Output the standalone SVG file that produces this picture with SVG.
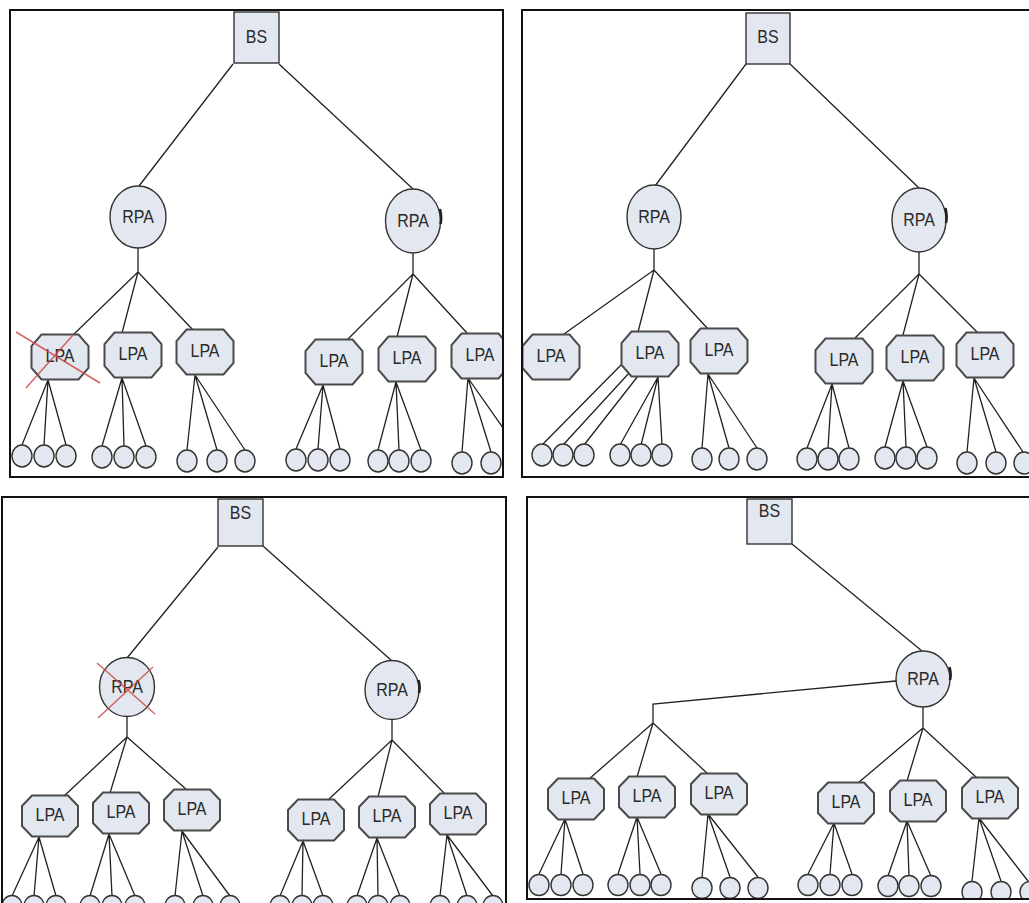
<svg xmlns="http://www.w3.org/2000/svg" xmlns:xlink="http://www.w3.org/1999/xlink" width="1029" height="903" viewBox="0 0 1029 903">
  <defs>
    <style>
      .frame { fill: none; stroke: #111; stroke-width: 2; }
      .ln { fill: none; stroke: #222; stroke-width: 1.3; }
      .box, .rpa, .leaf { fill: #e2e7f0; stroke: #333; stroke-width: 1.4; }
      .oct { fill: #e2e7f0; stroke: #4a4a4a; stroke-width: 2; }
      .mark { fill: none; stroke: #222; stroke-width: 2.6; }
      .lbl { font-family: "Liberation Sans", Arial, sans-serif; font-size: 16px; fill: #2a2a2a; text-anchor: middle; }
      .cross { stroke: #d24a4a; stroke-width: 1.5; opacity: 0.85; }
    </style>
    <polygon id="octL" class="oct" points="-18.5,-22.5 18.5,-22.5 28.5,-11 28.5,11 18.5,22.5 -18.5,22.5 -28.5,11 -28.5,-11"/>
    <polygon id="octS" class="oct" points="-18,-20.5 18,-20.5 28,-10 28,10 18,20.5 -18,20.5 -28,10 -28,-10"/>
    <clipPath id="clip1"><rect x="10" y="10" width="493" height="467"/></clipPath>
    <clipPath id="clip2"><rect x="522" y="10" width="510" height="467"/></clipPath>
    <clipPath id="clip3"><rect x="2" y="497" width="504" height="410"/></clipPath>
    <clipPath id="clip4"><rect x="527" y="497" width="505" height="402"/></clipPath>
  </defs>

  <rect width="1029" height="903" fill="#fff"/>

  <!-- ===== Panel 1: LPA failure ===== -->
  <g id="panel1" clip-path="url(#clip1)">
    <g id="p1-links" class="ln">
      <path d="M233,64 L139,186 M279,64 L413,189"/>
      <path d="M138,248 L138,272 L72,336 M138,272 L122,333 M138,272 L193,330"/>
      <path d="M413,253 L413,274 L347,340 M413,274 L397,337 M413,274 L467,333"/>
      <path d="M48,380 L22,445 M48,380 L44,445 M48,380 L66,445"/>
      <path d="M122,378 L102,446 M122,378 L124,446 M122,378 L146,446"/>
      <path d="M195,375 L187,450 M195,375 L217,450 M195,375 L245,450"/>
      <path d="M323,385 L296,449 M323,385 L318,449 M323,385 L340,449"/>
      <path d="M396,382 L378,450 M396,382 L399,450 M396,382 L421,450"/>
      <path d="M468,378 L462,452 M468,378 L491,452 M468,378 L520,452"/>
    </g>
    <g id="p1-bs"><rect class="box" x="234" y="12" width="45" height="51"/><text class="lbl" x="256.5" y="35.5" transform="scale(1,1.2)">BS</text></g>
    <g id="p1-rpa1" transform="translate(138,217)"><ellipse class="rpa" rx="28" ry="31"/><text class="lbl" y="5" transform="scale(1,1.2)">RPA</text></g>
    <g id="p1-rpa2" transform="translate(413,221)"><ellipse class="rpa" rx="27.5" ry="32"/><path class="mark" d="M27,-12 Q29,-3 27.5,3"/><text class="lbl" y="5" transform="scale(1,1.2)">RPA</text></g>
    <g id="p1-lpa1" transform="translate(60,357)"><use xlink:href="#octL" href="#octL"/><text class="lbl" y="4" transform="scale(1,1.2)">LPA</text></g>
    <g id="p1-lpa2" transform="translate(133,355)"><use xlink:href="#octL" href="#octL"/><text class="lbl" y="4" transform="scale(1,1.2)">LPA</text></g>
    <g id="p1-lpa3" transform="translate(205,352)"><use xlink:href="#octL" href="#octL"/><text class="lbl" y="4" transform="scale(1,1.2)">LPA</text></g>
    <g id="p1-lpa4" transform="translate(334,362)"><use xlink:href="#octL" href="#octL"/><text class="lbl" y="4" transform="scale(1,1.2)">LPA</text></g>
    <g id="p1-lpa5" transform="translate(407,359)"><use xlink:href="#octL" href="#octL"/><text class="lbl" y="4" transform="scale(1,1.2)">LPA</text></g>
    <g id="p1-lpa6" transform="translate(480,356)"><use xlink:href="#octL" href="#octL"/><text class="lbl" y="4" transform="scale(1,1.2)">LPA</text></g>
    <g id="p1-sensors">
      <ellipse id="p1-s1" class="leaf" cx="22" cy="456" rx="10" ry="11"/>
      <ellipse id="p1-s2" class="leaf" cx="44" cy="456" rx="10" ry="11"/>
      <ellipse id="p1-s3" class="leaf" cx="66" cy="456" rx="10" ry="11"/>
      <ellipse id="p1-s4" class="leaf" cx="102" cy="457" rx="10" ry="11"/>
      <ellipse id="p1-s5" class="leaf" cx="124" cy="457" rx="10" ry="11"/>
      <ellipse id="p1-s6" class="leaf" cx="146" cy="457" rx="10" ry="11"/>
      <ellipse id="p1-s7" class="leaf" cx="187" cy="461" rx="10" ry="11"/>
      <ellipse id="p1-s8" class="leaf" cx="217" cy="461" rx="10" ry="11"/>
      <ellipse id="p1-s9" class="leaf" cx="245" cy="461" rx="10" ry="11"/>
      <ellipse id="p1-s10" class="leaf" cx="296" cy="460" rx="10" ry="11"/>
      <ellipse id="p1-s11" class="leaf" cx="318" cy="460" rx="10" ry="11"/>
      <ellipse id="p1-s12" class="leaf" cx="340" cy="460" rx="10" ry="11"/>
      <ellipse id="p1-s13" class="leaf" cx="378" cy="461" rx="10" ry="11"/>
      <ellipse id="p1-s14" class="leaf" cx="399" cy="461" rx="10" ry="11"/>
      <ellipse id="p1-s15" class="leaf" cx="421" cy="461" rx="10" ry="11"/>
      <ellipse id="p1-s16" class="leaf" cx="462" cy="463" rx="10" ry="11"/>
      <ellipse id="p1-s17" class="leaf" cx="491" cy="463" rx="10" ry="11"/>
      <ellipse id="p1-s18" class="leaf" cx="520" cy="463" rx="10" ry="11"/>
    </g>
    <g id="p1-fail" class="cross"><path d="M16,332 L100,383 M73,335 L26,388"/></g>
  </g>
  <rect id="p1-frame" class="frame" x="10" y="10" width="493" height="467"/>

  <!-- ===== Panel 2: orphaned sensors re-attached ===== -->
  <g id="panel2" clip-path="url(#clip2)">
    <g id="p2-links" class="ln">
      <path d="M746,64 L655,186 M790,64 L919,188"/>
      <path d="M654,249 L654,270 L564,334 M654,270 L638,332 M654,270 L708,329"/>
      <path d="M919,252 L919,274 L855,338 M919,274 L903,335 M919,274 L978,333"/>
      <path d="M621,365 L542,445 M630,372 L563,445 M638,376 L584,445"/>
      <path d="M658,377 L620,445 M658,377 L641,445 M658,377 L662,444"/>
      <path d="M708,374 L702,448 M708,374 L729,448 M708,374 L757,448"/>
      <path d="M832,384 L807,448 M832,384 L828,448 M832,384 L849,448"/>
      <path d="M903,381 L885,447 M903,381 L906,447 M903,381 L927,447"/>
      <path d="M974,378 L967,452 M974,378 L996,452 M974,378 L1023,452"/>
    </g>
    <g id="p2-bs"><rect class="box" x="746" y="13" width="44" height="51"/><text class="lbl" x="768" y="36" transform="scale(1,1.2)">BS</text></g>
    <g id="p2-rpa1" transform="translate(654,217)"><ellipse class="rpa" rx="27" ry="32"/><text class="lbl" y="5" transform="scale(1,1.2)">RPA</text></g>
    <g id="p2-rpa2" transform="translate(919,220)"><ellipse class="rpa" rx="27" ry="32"/><path class="mark" d="M26.5,-12 Q28.5,-3 27,3"/><text class="lbl" y="5" transform="scale(1,1.2)">RPA</text></g>
    <g id="p2-lpa1" transform="translate(551,357)"><use xlink:href="#octL" href="#octL"/><text class="lbl" y="4" transform="scale(1,1.2)">LPA</text></g>
    <g id="p2-lpa2" transform="translate(650,354)"><use xlink:href="#octL" href="#octL"/><text class="lbl" y="4" transform="scale(1,1.2)">LPA</text></g>
    <g id="p2-lpa3" transform="translate(719,351)"><use xlink:href="#octL" href="#octL"/><text class="lbl" y="4" transform="scale(1,1.2)">LPA</text></g>
    <g id="p2-lpa4" transform="translate(844,361)"><use xlink:href="#octL" href="#octL"/><text class="lbl" y="4" transform="scale(1,1.2)">LPA</text></g>
    <g id="p2-lpa5" transform="translate(915,358)"><use xlink:href="#octL" href="#octL"/><text class="lbl" y="4" transform="scale(1,1.2)">LPA</text></g>
    <g id="p2-lpa6" transform="translate(985,355)"><use xlink:href="#octL" href="#octL"/><text class="lbl" y="4" transform="scale(1,1.2)">LPA</text></g>
    <g id="p2-sensors">
      <ellipse id="p2-s1" class="leaf" cx="542" cy="455" rx="10" ry="11"/>
      <ellipse id="p2-s2" class="leaf" cx="563" cy="455" rx="10" ry="11"/>
      <ellipse id="p2-s3" class="leaf" cx="584" cy="455" rx="10" ry="11"/>
      <ellipse id="p2-s4" class="leaf" cx="620" cy="455" rx="10" ry="11"/>
      <ellipse id="p2-s5" class="leaf" cx="641" cy="455" rx="10" ry="11"/>
      <ellipse id="p2-s6" class="leaf" cx="662" cy="455" rx="10" ry="11"/>
      <ellipse id="p2-s7" class="leaf" cx="702" cy="459" rx="10" ry="11"/>
      <ellipse id="p2-s8" class="leaf" cx="729" cy="459" rx="10" ry="11"/>
      <ellipse id="p2-s9" class="leaf" cx="757" cy="459" rx="10" ry="11"/>
      <ellipse id="p2-s10" class="leaf" cx="807" cy="459" rx="10" ry="11"/>
      <ellipse id="p2-s11" class="leaf" cx="828" cy="459" rx="10" ry="11"/>
      <ellipse id="p2-s12" class="leaf" cx="849" cy="459" rx="10" ry="11"/>
      <ellipse id="p2-s13" class="leaf" cx="885" cy="458" rx="10" ry="11"/>
      <ellipse id="p2-s14" class="leaf" cx="906" cy="458" rx="10" ry="11"/>
      <ellipse id="p2-s15" class="leaf" cx="927" cy="458" rx="10" ry="11"/>
      <ellipse id="p2-s16" class="leaf" cx="967" cy="463" rx="10" ry="11"/>
      <ellipse id="p2-s17" class="leaf" cx="996" cy="463" rx="10" ry="11"/>
      <ellipse id="p2-s18" class="leaf" cx="1024" cy="463" rx="10" ry="11"/>
    </g>
  </g>
  <rect id="p2-frame" class="frame" x="522" y="10" width="510" height="467"/>

  <!-- ===== Panel 3: RPA failure ===== -->
  <g id="panel3" clip-path="url(#clip3)">
    <g id="p3-links" class="ln">
      <path d="M218,547 L127,658 M263,546 L392,661"/>
      <path d="M127,716 L127,737 L63,797 M127,737 L110,793 M127,737 L187,790"/>
      <path d="M392,719 L392,740 L328,800 M392,740 L378,797 M392,740 L445,794"/>
      <path d="M39,837 L12,896 M39,837 L34,896 M39,837 L56,896"/>
      <path d="M109,834 L90,896 M109,834 L112,896 M109,834 L135,896"/>
      <path d="M182,831 L175,896 M182,831 L203,896 M182,831 L230,896"/>
      <path d="M303,841 L280,896 M303,841 L302,896 M303,841 L323,896"/>
      <path d="M377,838 L357,896 M377,838 L378,896 M377,838 L400,896"/>
      <path d="M447,835 L440,896 M447,835 L467,896 M447,835 L493,896"/>
    </g>
    <g id="p3-bs"><rect class="box" x="218" y="499" width="45" height="47"/><text class="lbl" x="240.5" y="432.5" transform="scale(1,1.2)">BS</text></g>
    <g id="p3-rpa1" transform="translate(127,687)"><ellipse class="rpa" rx="27.5" ry="29.5"/><text class="lbl" y="5" transform="scale(1,1.2)">RPA</text></g>
    <g id="p3-rpa2" transform="translate(392,690)"><ellipse class="rpa" rx="27" ry="29.5"/><path class="mark" d="M26.5,-10 Q28.5,-3 27,3"/><text class="lbl" y="5" transform="scale(1,1.2)">RPA</text></g>
    <g id="p3-lpa1" transform="translate(50,816)"><use xlink:href="#octS" href="#octS"/><text class="lbl" y="4" transform="scale(1,1.2)">LPA</text></g>
    <g id="p3-lpa2" transform="translate(121,813)"><use xlink:href="#octS" href="#octS"/><text class="lbl" y="4" transform="scale(1,1.2)">LPA</text></g>
    <g id="p3-lpa3" transform="translate(192,810)"><use xlink:href="#octS" href="#octS"/><text class="lbl" y="4" transform="scale(1,1.2)">LPA</text></g>
    <g id="p3-lpa4" transform="translate(316,820)"><use xlink:href="#octS" href="#octS"/><text class="lbl" y="4" transform="scale(1,1.2)">LPA</text></g>
    <g id="p3-lpa5" transform="translate(387,817)"><use xlink:href="#octS" href="#octS"/><text class="lbl" y="4" transform="scale(1,1.2)">LPA</text></g>
    <g id="p3-lpa6" transform="translate(458,814)"><use xlink:href="#octS" href="#octS"/><text class="lbl" y="4" transform="scale(1,1.2)">LPA</text></g>
    <g id="p3-sensors">
      <ellipse id="p3-s1" class="leaf" cx="12" cy="906" rx="10" ry="10.5"/>
      <ellipse id="p3-s2" class="leaf" cx="34" cy="906" rx="10" ry="10.5"/>
      <ellipse id="p3-s3" class="leaf" cx="56" cy="906" rx="10" ry="10.5"/>
      <ellipse id="p3-s4" class="leaf" cx="90" cy="906" rx="10" ry="10.5"/>
      <ellipse id="p3-s5" class="leaf" cx="112" cy="906" rx="10" ry="10.5"/>
      <ellipse id="p3-s6" class="leaf" cx="135" cy="906" rx="10" ry="10.5"/>
      <ellipse id="p3-s7" class="leaf" cx="175" cy="906" rx="10" ry="10.5"/>
      <ellipse id="p3-s8" class="leaf" cx="203" cy="906" rx="10" ry="10.5"/>
      <ellipse id="p3-s9" class="leaf" cx="230" cy="906" rx="10" ry="10.5"/>
      <ellipse id="p3-s10" class="leaf" cx="280" cy="906" rx="10" ry="10.5"/>
      <ellipse id="p3-s11" class="leaf" cx="302" cy="906" rx="10" ry="10.5"/>
      <ellipse id="p3-s12" class="leaf" cx="323" cy="906" rx="10" ry="10.5"/>
      <ellipse id="p3-s13" class="leaf" cx="357" cy="906" rx="10" ry="10.5"/>
      <ellipse id="p3-s14" class="leaf" cx="378" cy="906" rx="10" ry="10.5"/>
      <ellipse id="p3-s15" class="leaf" cx="400" cy="906" rx="10" ry="10.5"/>
      <ellipse id="p3-s16" class="leaf" cx="440" cy="906" rx="10" ry="10.5"/>
      <ellipse id="p3-s17" class="leaf" cx="467" cy="906" rx="10" ry="10.5"/>
      <ellipse id="p3-s18" class="leaf" cx="493" cy="906" rx="10" ry="10.5"/>
    </g>
    <g id="p3-fail" class="cross"><path d="M97,663 L155,714 M153,667 L98,718"/></g>
  </g>
  <rect id="p3-frame" class="frame" x="2" y="497" width="504" height="420"/>

  <!-- ===== Panel 4: LPAs re-attached to the surviving RPA ===== -->
  <g id="panel4" clip-path="url(#clip4)">
    <g id="p4-links" class="ln">
      <path d="M792,544 L922,651"/>
      <path d="M896,681 L653,704 L653,723 L589,779 M653,723 L637,777 M653,723 L708,774"/>
      <path d="M923,707 L923,728 L858,783 M923,728 L907,781 M923,728 L977,778"/>
      <path d="M565,819 L539,874 M565,819 L561,874 M565,819 L583,874"/>
      <path d="M637,817 L618,874 M637,817 L640,874 M637,817 L661,874"/>
      <path d="M708,814 L702,877 M708,814 L730,877 M708,814 L758,877"/>
      <path d="M834,823 L808,874 M834,823 L830,874 M834,823 L852,874"/>
      <path d="M907,821 L888,876 M907,821 L909,876 M907,821 L931,876"/>
      <path d="M979,818 L972,881 M979,818 L1001,881 M979,818 L1028,881"/>
    </g>
    <g id="p4-bs"><rect class="box" x="747" y="499" width="45" height="45"/><text class="lbl" x="769.5" y="431" transform="scale(1,1.2)">BS</text></g>
    <g id="p4-rpa" transform="translate(923,679)"><ellipse class="rpa" rx="27" ry="28"/><path class="mark" d="M26.5,-12 Q28.5,-5 27,1"/><text class="lbl" y="5" transform="scale(1,1.2)">RPA</text></g>
    <g id="p4-lpa1" transform="translate(576,799)"><use xlink:href="#octS" href="#octS"/><text class="lbl" y="4" transform="scale(1,1.2)">LPA</text></g>
    <g id="p4-lpa2" transform="translate(647,797)"><use xlink:href="#octS" href="#octS"/><text class="lbl" y="4" transform="scale(1,1.2)">LPA</text></g>
    <g id="p4-lpa3" transform="translate(719,794)"><use xlink:href="#octS" href="#octS"/><text class="lbl" y="4" transform="scale(1,1.2)">LPA</text></g>
    <g id="p4-lpa4" transform="translate(846,803)"><use xlink:href="#octS" href="#octS"/><text class="lbl" y="4" transform="scale(1,1.2)">LPA</text></g>
    <g id="p4-lpa5" transform="translate(918,801)"><use xlink:href="#octS" href="#octS"/><text class="lbl" y="4" transform="scale(1,1.2)">LPA</text></g>
    <g id="p4-lpa6" transform="translate(990,798)"><use xlink:href="#octS" href="#octS"/><text class="lbl" y="4" transform="scale(1,1.2)">LPA</text></g>
    <g id="p4-sensors">
      <ellipse id="p4-s1" class="leaf" cx="539" cy="885" rx="10" ry="10.5"/>
      <ellipse id="p4-s2" class="leaf" cx="561" cy="885" rx="10" ry="10.5"/>
      <ellipse id="p4-s3" class="leaf" cx="583" cy="885" rx="10" ry="10.5"/>
      <ellipse id="p4-s4" class="leaf" cx="618" cy="885" rx="10" ry="10.5"/>
      <ellipse id="p4-s5" class="leaf" cx="640" cy="885" rx="10" ry="10.5"/>
      <ellipse id="p4-s6" class="leaf" cx="661" cy="885" rx="10" ry="10.5"/>
      <ellipse id="p4-s7" class="leaf" cx="702" cy="888" rx="10" ry="10.5"/>
      <ellipse id="p4-s8" class="leaf" cx="730" cy="888" rx="10" ry="10.5"/>
      <ellipse id="p4-s9" class="leaf" cx="758" cy="888" rx="10" ry="10.5"/>
      <ellipse id="p4-s10" class="leaf" cx="808" cy="885" rx="10" ry="10.5"/>
      <ellipse id="p4-s11" class="leaf" cx="830" cy="885" rx="10" ry="10.5"/>
      <ellipse id="p4-s12" class="leaf" cx="852" cy="885" rx="10" ry="10.5"/>
      <ellipse id="p4-s13" class="leaf" cx="888" cy="886" rx="10" ry="10.5"/>
      <ellipse id="p4-s14" class="leaf" cx="909" cy="886" rx="10" ry="10.5"/>
      <ellipse id="p4-s15" class="leaf" cx="931" cy="886" rx="10" ry="10.5"/>
      <ellipse id="p4-s16" class="leaf" cx="972" cy="892" rx="10" ry="10.5"/>
      <ellipse id="p4-s17" class="leaf" cx="1001" cy="892" rx="10" ry="10.5"/>
      <ellipse id="p4-s18" class="leaf" cx="1030" cy="892" rx="10" ry="10.5"/>
    </g>
  </g>
  <rect id="p4-frame" class="frame" x="527" y="497" width="505" height="402"/>
</svg>
